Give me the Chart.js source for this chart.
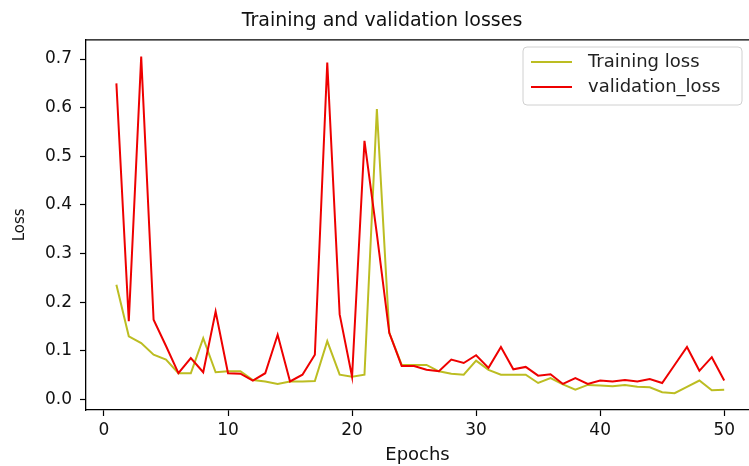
<!DOCTYPE html>
<html>
<head>
<meta charset="utf-8">
<script src="https://cdn.jsdelivr.net/npm/chart.js@4.4.0/dist/chart.umd.min.js"></script>
<style>
  html, body { margin: 0; padding: 0; background: #fff; overflow: hidden; }
  #lossChart { display: block; }
</style>
</head>
<body>
<canvas id="lossChart" width="749" height="466"></canvas>
<script>
// epochs on the x axis
const epochs = [1, 2, 3, 4, 5, 6, 7, 8, 9, 10,
    11, 12, 13, 14, 15, 16, 17, 18, 19, 20,
    21, 22, 23, 24, 25, 26, 27, 28, 29, 30,
    31, 32, 33, 34, 35, 36, 37, 38, 39, 40,
    41, 42, 43, 44, 45, 46, 47, 48, 49, 50];

const trainLoss = [0.236, 0.130, 0.116, 0.092, 0.082, 0.054, 0.054, 0.126, 0.056, 0.058,
    0.058, 0.040, 0.037, 0.032, 0.037, 0.037, 0.038, 0.120, 0.051, 0.047,
    0.051, 0.597, 0.137, 0.071, 0.071, 0.071, 0.058, 0.053, 0.051, 0.080,
    0.061, 0.051, 0.051, 0.051, 0.034, 0.044, 0.031, 0.020, 0.030, 0.029,
    0.027, 0.030, 0.026, 0.025, 0.015, 0.013, 0.026, 0.039, 0.019, 0.020];

const valLoss = [0.650, 0.161, 0.705, 0.164, 0.110, 0.054, 0.085, 0.056, 0.181, 0.054,
    0.053, 0.039, 0.054, 0.133, 0.037, 0.051, 0.092, 0.693, 0.175, 0.047,
    0.532, 0.340, 0.137, 0.069, 0.069, 0.061, 0.058, 0.082, 0.075, 0.091,
    0.065, 0.108, 0.062, 0.067, 0.049, 0.052, 0.032, 0.044, 0.032, 0.039,
    0.037, 0.040, 0.037, 0.042, 0.034, 0.071, 0.108, 0.059, 0.087, 0.039];

const xTicks = [0, 10, 20, 30, 40, 50];
const yTicks = [0.0, 0.1, 0.2, 0.3, 0.4, 0.5, 0.6, 0.7];

const FONT = "'DejaVu Sans', sans-serif";

function toPoints(xs, ys) {
    return xs.map((x, i) => ({ x: x, y: ys[i] }));
}

// top spine + matplotlib-style legend inside the axes
const frameAndLegend = {
    id: 'frameAndLegend',
    afterDraw(chart) {
        const ctx = chart.ctx;
        const area = chart.chartArea;
        ctx.save();
        ctx.strokeStyle = '#000';
        ctx.lineWidth = 1.3;
        ctx.beginPath();
        ctx.moveTo(area.left, area.top);
        ctx.lineTo(area.right, area.top);
        ctx.stroke();

        // legend box
        const bx = 523, by = 47, bw = 219, bh = 58, r = 4;
        ctx.beginPath();
        ctx.roundRect(bx, by, bw, bh, r);
        ctx.fillStyle = 'rgba(255,255,255,0.8)';
        ctx.fill();
        ctx.strokeStyle = '#d0d0d0';
        ctx.lineWidth = 1;
        ctx.stroke();

        ctx.font = '18px ' + FONT;
        ctx.textBaseline = 'middle';
        chart.data.datasets.forEach((ds, i) => {
            const ly = by + 15 + i * 25;
            ctx.strokeStyle = ds.borderColor;
            ctx.lineWidth = 2;
            ctx.beginPath();
            ctx.moveTo(bx + 8, ly);
            ctx.lineTo(bx + 49, ly);
            ctx.stroke();
            ctx.fillStyle = '#222';
            ctx.fillText(ds.label, bx + 65, ly);
        });
        ctx.restore();
    }
};

const ctx = document.getElementById('lossChart');
const chart = new Chart(ctx, {
    type: 'line',
    data: {
        datasets: [{
            label: 'Training loss',
            data: toPoints(epochs, trainLoss),
            borderColor: '#bcbd22',
            borderWidth: 2,
            pointRadius: 0,
            tension: 0,
            order: 1
        }, {
            label: 'validation_loss',
            data: toPoints(epochs, valLoss),
            borderColor: '#ee0000',
            borderWidth: 2,
            pointRadius: 0,
            tension: 0,
            order: 0
        }]
    },
    options: {
        responsive: false,
        animation: false,
        layout: {
            padding: { left: 15, right: 0, top: 0, bottom: 0 }
        },
        plugins: {
            legend: { display: false },
            tooltip: { enabled: false },
            title: {
                display: true,
                text: 'Training and validation losses',
                color: '#111',
                font: { family: FONT, size: 19, weight: 'normal' },
                padding: { top: 10, bottom: 7 }
            }
        },
        scales: {
            x: {
                type: 'linear',
                min: -1.45,
                max: 52.0,
                afterFit(scale) { scale.height = 56; },
                afterBuildTicks(scale) { scale.ticks = xTicks.map(v => ({ value: v })); },
                grid: {
                    drawOnChartArea: false,
                    drawTicks: true,
                    tickLength: 6,
                    tickColor: '#000',
                    tickWidth: 1.2
                },
                border: { color: '#000', width: 1.3 },
                ticks: {
                    color: '#111',
                    padding: 4,
                    maxRotation: 0,
                    font: { family: FONT, size: 17 }
                },
                title: {
                    display: true,
                    text: 'Epochs',
                    color: '#111',
                    font: { family: FONT, size: 18 },
                    padding: { top: 0, bottom: 0 }
                }
            },
            y: {
                min: -0.0216,
                max: 0.7396,
                afterFit(scale) { scale.width = 71; },
                afterBuildTicks(scale) { scale.ticks = yTicks.map(v => ({ value: v })); },
                grid: {
                    drawOnChartArea: false,
                    drawTicks: true,
                    tickLength: 6,
                    tickColor: '#000',
                    tickWidth: 1.2
                },
                border: { color: '#000', width: 1.3 },
                ticks: {
                    color: '#111',
                    padding: 8,
                    font: { family: FONT, size: 17 },
                    callback: value => Number(value).toFixed(1)
                },
                title: {
                    display: true,
                    text: 'Loss',
                    color: '#111',
                    font: { family: FONT, size: 15 },
                    padding: { top: -4, bottom: 0 }
                }
            }
        }
    },
    plugins: [frameAndLegend]
});
</script>
</body>
</html>
